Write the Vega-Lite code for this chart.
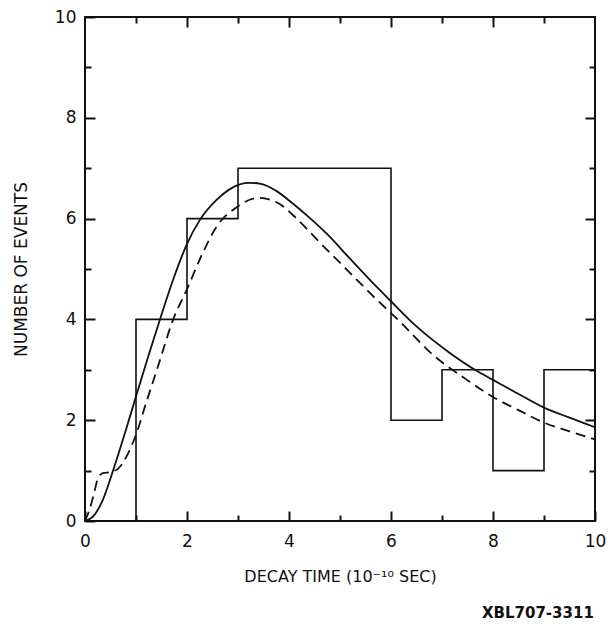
{
  "$schema": "https://vega.github.io/schema/vega-lite/v6.json",
  "autosize": "none",
  "width": 510,
  "height": 504,
  "padding": {"left": 85, "top": 17, "right": 13, "bottom": 103},
  "background": "white",
  "title": {"text": "XBL707-3311", "orient": "bottom", "anchor": "end", "font": "DejaVu Sans", "fontSize": 15, "fontWeight": "bold", "color": "#111", "offset": 22, "dx": -12},
  "config": {
    "view": {"stroke": "#111", "strokeWidth": 2},
    "axis": {"domain": false, "grid": false, "labelFont": "DejaVu Sans", "labelFontSize": 17, "labelColor": "#111", "titleFont": "DejaVu Sans", "titleFontSize": 16, "titleFontWeight": "normal", "titleColor": "#111", "tickColor": "#111", "tickWidth": 2}
  },
  "resolve": {"axis": {"x": "independent", "y": "independent"}},
  "datasets": {
    "hist": [
      {"t": 0, "n": 0}, {"t": 1, "n": 4}, {"t": 2, "n": 6}, {"t": 3, "n": 7}, {"t": 4, "n": 7}, {"t": 5, "n": 7},
      {"t": 6, "n": 2}, {"t": 7, "n": 3}, {"t": 8, "n": 1}, {"t": 9, "n": 3}, {"t": 10, "n": 3}
    ],
    "curves": [
      {"s": "solid", "t": 0, "n": 0}, {"s": "solid", "t": 0.15, "n": 0.08}, {"s": "solid", "t": 0.35, "n": 0.42}, {"s": "solid", "t": 0.55, "n": 1.0},
      {"s": "solid", "t": 0.8, "n": 1.8}, {"s": "solid", "t": 1.02, "n": 2.54}, {"s": "solid", "t": 1.25, "n": 3.3}, {"s": "solid", "t": 1.47, "n": 4.0},
      {"s": "solid", "t": 1.75, "n": 4.85}, {"s": "solid", "t": 2.0, "n": 5.5}, {"s": "solid", "t": 2.25, "n": 5.97}, {"s": "solid", "t": 2.58, "n": 6.37},
      {"s": "solid", "t": 2.9, "n": 6.62}, {"s": "solid", "t": 3.2, "n": 6.71}, {"s": "solid", "t": 3.45, "n": 6.69}, {"s": "solid", "t": 3.75, "n": 6.55},
      {"s": "solid", "t": 4.05, "n": 6.32}, {"s": "solid", "t": 4.4, "n": 6.02}, {"s": "solid", "t": 4.74, "n": 5.7}, {"s": "solid", "t": 5.2, "n": 5.2},
      {"s": "solid", "t": 5.6, "n": 4.77}, {"s": "solid", "t": 5.98, "n": 4.38}, {"s": "solid", "t": 6.5, "n": 3.86}, {"s": "solid", "t": 7.16, "n": 3.33},
      {"s": "solid", "t": 7.68, "n": 2.98}, {"s": "solid", "t": 8.0, "n": 2.8}, {"s": "solid", "t": 8.5, "n": 2.52}, {"s": "solid", "t": 8.98, "n": 2.26},
      {"s": "solid", "t": 9.5, "n": 2.05}, {"s": "solid", "t": 10, "n": 1.86},
      {"s": "dashed", "t": 0, "n": 0}, {"s": "dashed", "t": 0.08, "n": 0.2}, {"s": "dashed", "t": 0.16, "n": 0.48}, {"s": "dashed", "t": 0.26, "n": 0.86},
      {"s": "dashed", "t": 0.35, "n": 0.95}, {"s": "dashed", "t": 0.49, "n": 0.97}, {"s": "dashed", "t": 0.65, "n": 1.04}, {"s": "dashed", "t": 0.85, "n": 1.35},
      {"s": "dashed", "t": 1.01, "n": 1.74}, {"s": "dashed", "t": 1.2, "n": 2.35}, {"s": "dashed", "t": 1.41, "n": 3.0}, {"s": "dashed", "t": 1.73, "n": 4.0},
      {"s": "dashed", "t": 2.0, "n": 4.6}, {"s": "dashed", "t": 2.3, "n": 5.3}, {"s": "dashed", "t": 2.58, "n": 5.84}, {"s": "dashed", "t": 2.98, "n": 6.23},
      {"s": "dashed", "t": 3.4, "n": 6.41}, {"s": "dashed", "t": 3.8, "n": 6.3}, {"s": "dashed", "t": 4.15, "n": 6.0}, {"s": "dashed", "t": 4.6, "n": 5.53},
      {"s": "dashed", "t": 5.2, "n": 4.92}, {"s": "dashed", "t": 5.59, "n": 4.52}, {"s": "dashed", "t": 6.18, "n": 3.95}, {"s": "dashed", "t": 6.82, "n": 3.3},
      {"s": "dashed", "t": 7.49, "n": 2.8}, {"s": "dashed", "t": 8.0, "n": 2.46}, {"s": "dashed", "t": 8.5, "n": 2.2}, {"s": "dashed", "t": 8.98, "n": 1.96},
      {"s": "dashed", "t": 9.5, "n": 1.78}, {"s": "dashed", "t": 10, "n": 1.62}
    ]
  },
  "layer": [
    {"data": {"name": "hist"}, "mark": {"type": "line", "interpolate": "step-after", "color": "#111", "strokeWidth": 1.6},
      "encoding": {
        "x": {"field": "t", "type": "quantitative", "scale": {"domain": [0, 10], "nice": false},
          "axis": {"orient": "top", "title": null, "labels": false, "values": [1,2,3,4,5,6,7,8,9],
            "tickSize": {"condition": {"test": "datum.value % 2 === 0", "value": -10}, "value": -6}}},
        "y": {"field": "n", "type": "quantitative", "scale": {"domain": [0, 10], "nice": false},
          "axis": {"orient": "right", "title": null, "labels": false, "values": [1,2,3,4,5,6,7,8,9],
            "tickSize": {"condition": {"test": "datum.value % 2 === 0", "value": -10}, "value": -6}}}
      }},
    {"data": {"name": "curves"}, "transform": [{"filter": "datum.s === 'solid'"}], "mark": {"type": "line", "interpolate": "monotone", "color": "#111", "strokeWidth": 1.8},
      "encoding": {
        "x": {"field": "t", "type": "quantitative", "scale": {"domain": [0, 10], "nice": false},
          "axis": {"orient": "bottom", "title": "DECAY TIME  (10⁻¹⁰ SEC)", "values": [0,1,2,3,4,5,6,7,8,9,10], "labelExpr": "datum.value % 2 === 0 ? datum.label : ''",
            "tickSize": {"condition": {"test": "datum.value % 2 === 0", "value": -10}, "value": -6}, "labelPadding": 22, "titlePadding": 19, "labelFlush": false}},
        "y": {"field": "n", "type": "quantitative", "scale": {"domain": [0, 10], "nice": false},
          "axis": {"orient": "left", "title": "NUMBER OF EVENTS", "values": [0,1,2,3,4,5,6,7,8,9,10], "labelExpr": "datum.value % 2 === 0 ? datum.label : ''",
            "tickSize": {"condition": {"test": "datum.value % 2 === 0", "value": -10}, "value": -6}, "labelPadding": 19, "titlePadding": 24, "labelFlush": false, "titleFontSize": 17}}
      }},
    {"data": {"name": "curves"}, "transform": [{"filter": "datum.s === 'dashed'"}], "mark": {"type": "line", "interpolate": "monotone", "color": "#111", "strokeWidth": 1.8, "strokeDash": [10, 6]},
      "encoding": {
        "x": {"field": "t", "type": "quantitative", "axis": null},
        "y": {"field": "n", "type": "quantitative", "axis": null}
      }}
  ]
}
